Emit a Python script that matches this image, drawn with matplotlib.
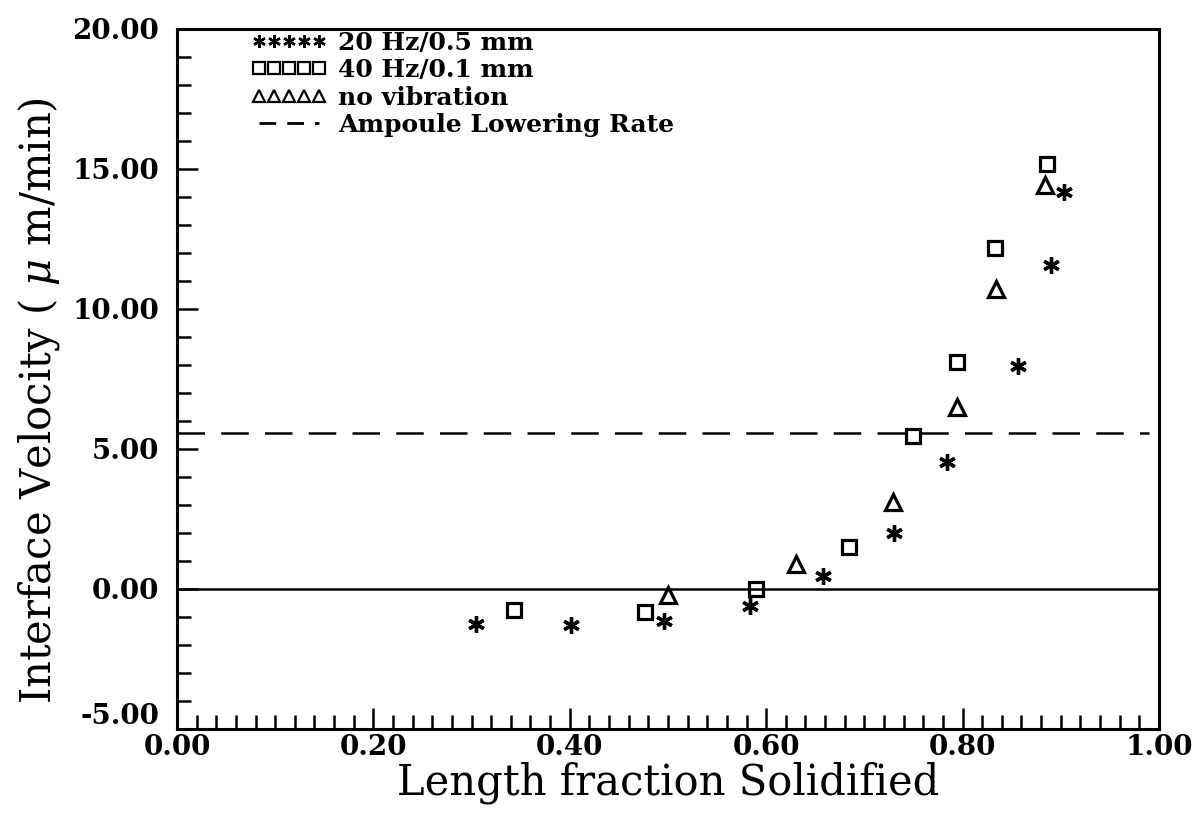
import matplotlib
matplotlib.use("Agg")
import matplotlib.pyplot as plt
import matplotlib.transforms as mtransforms
from matplotlib.ticker import MultipleLocator, FormatStrFormatter
from matplotlib.lines import Line2D

# ---- data ----
x_20hz = [0.304, 0.401, 0.496, 0.584, 0.658, 0.730, 0.784, 0.856, 0.890, 0.903]
y_20hz = [-1.27, -1.31, -1.15, -0.61, 0.45, 2.00, 4.54, 7.96, 11.55, 14.15]

x_40hz = [0.343, 0.477, 0.590, 0.684, 0.750, 0.794, 0.833, 0.886]
y_40hz = [-0.76, -0.83, -0.01, 1.49, 5.46, 8.08, 12.18, 15.17]

x_novib = [0.500, 0.630, 0.729, 0.794, 0.834, 0.884]
y_novib = [-0.22, 0.89, 3.10, 6.48, 10.70, 14.42]

lowering_rate = 5.55
x_range = [0.0, 0.99]

labels = ["20 Hz/0.5 mm", "40 Hz/0.1 mm", "no vibration", "Ampoule Lowering Rate"]
xlabel = "Length fraction Solidified"
ylabel = r"Interface Velocity ( $\mu$ m/min)"

plt.rcParams['font.family'] = ['DejaVu Serif']
plt.rcParams['mathtext.fontset'] = 'dejavuserif'

fig = plt.figure(figsize=(11.96, 8.18), dpi=100)
ax = fig.add_axes([0.148, 0.109, 0.821, 0.856])

ax.set_xlim(0, 1)
ax.set_ylim(-5, 20)

# zero line
ax.axhline(0, color='black', lw=1.8, zorder=1)
# ampoule lowering rate
ax.plot(x_range, [lowering_rate, lowering_rate], color='black', lw=1.8,
        dashes=(11, 6.5), zorder=1)

ax.plot(x_20hz, y_20hz, linestyle='none', marker=(6, 2, 0), ms=12, mew=2.4,
        color='black')
ax.plot(x_40hz, y_40hz, linestyle='none', marker='s', ms=10, mew=2.3,
        mfc='none', mec='black')
ax.plot(x_novib, y_novib, linestyle='none', marker='^', ms=11, mew=2.3,
        mfc='none', mec='black')

handles = [
    Line2D([], [], linestyle='none', marker=(6, 2, 0), ms=9, mew=1.7, color='black'),
    Line2D([], [], linestyle='none', marker='s', ms=8, mew=1.6, mfc='none', mec='black'),
    Line2D([], [], linestyle='none', marker='^', ms=9, mew=1.6, mfc='none', mec='black'),
    Line2D([], [], color='black', lw=2.0, dashes=(6, 4)),
]
leg = ax.legend(handles, labels, loc='upper left', bbox_to_anchor=(0.058, 1.022),
                frameon=False, numpoints=5, handlelength=3.0, handletextpad=0.45,
                labelspacing=0.14, borderaxespad=0.3,
                prop={'family': 'DejaVu Serif', 'weight': 'bold', 'size': 18})

for s in ax.spines.values():
    s.set_linewidth(2.2)

ax.xaxis.set_major_locator(MultipleLocator(0.2))
ax.xaxis.set_minor_locator(MultipleLocator(0.02))
ax.yaxis.set_major_locator(MultipleLocator(5))
ax.yaxis.set_minor_locator(MultipleLocator(1))
ax.xaxis.set_major_formatter(FormatStrFormatter('%.2f'))
ax.yaxis.set_major_formatter(FormatStrFormatter('%.2f'))

ax.tick_params(which='both', direction='in', top=False, right=False, width=1.8)
ax.tick_params(which='major', length=15, labelsize=20, pad=4)
ax.tick_params(which='minor', length=10)
ax.tick_params(axis='y', which='major', pad=13)

fig.canvas.draw()
for lab in ax.get_xticklabels() + ax.get_yticklabels():
    lab.set_fontweight('bold')
# the bottom y label sits a little higher in the reference
for tick, loc in zip(ax.yaxis.get_major_ticks(), ax.yaxis.get_majorticklocs()):
    if abs(loc - (-5)) < 1e-9:
        tick.label1.set_transform(tick.label1.get_transform() +
                                  mtransforms.ScaledTranslation(0, 11 / 72, fig.dpi_scale_trans))

ax.set_xlabel(xlabel, fontsize=30, labelpad=0)
ax.set_ylabel(ylabel, fontsize=30)
ax.yaxis.set_label_coords(-0.117, 0.469)

fig.savefig('out.png', dpi=100)
